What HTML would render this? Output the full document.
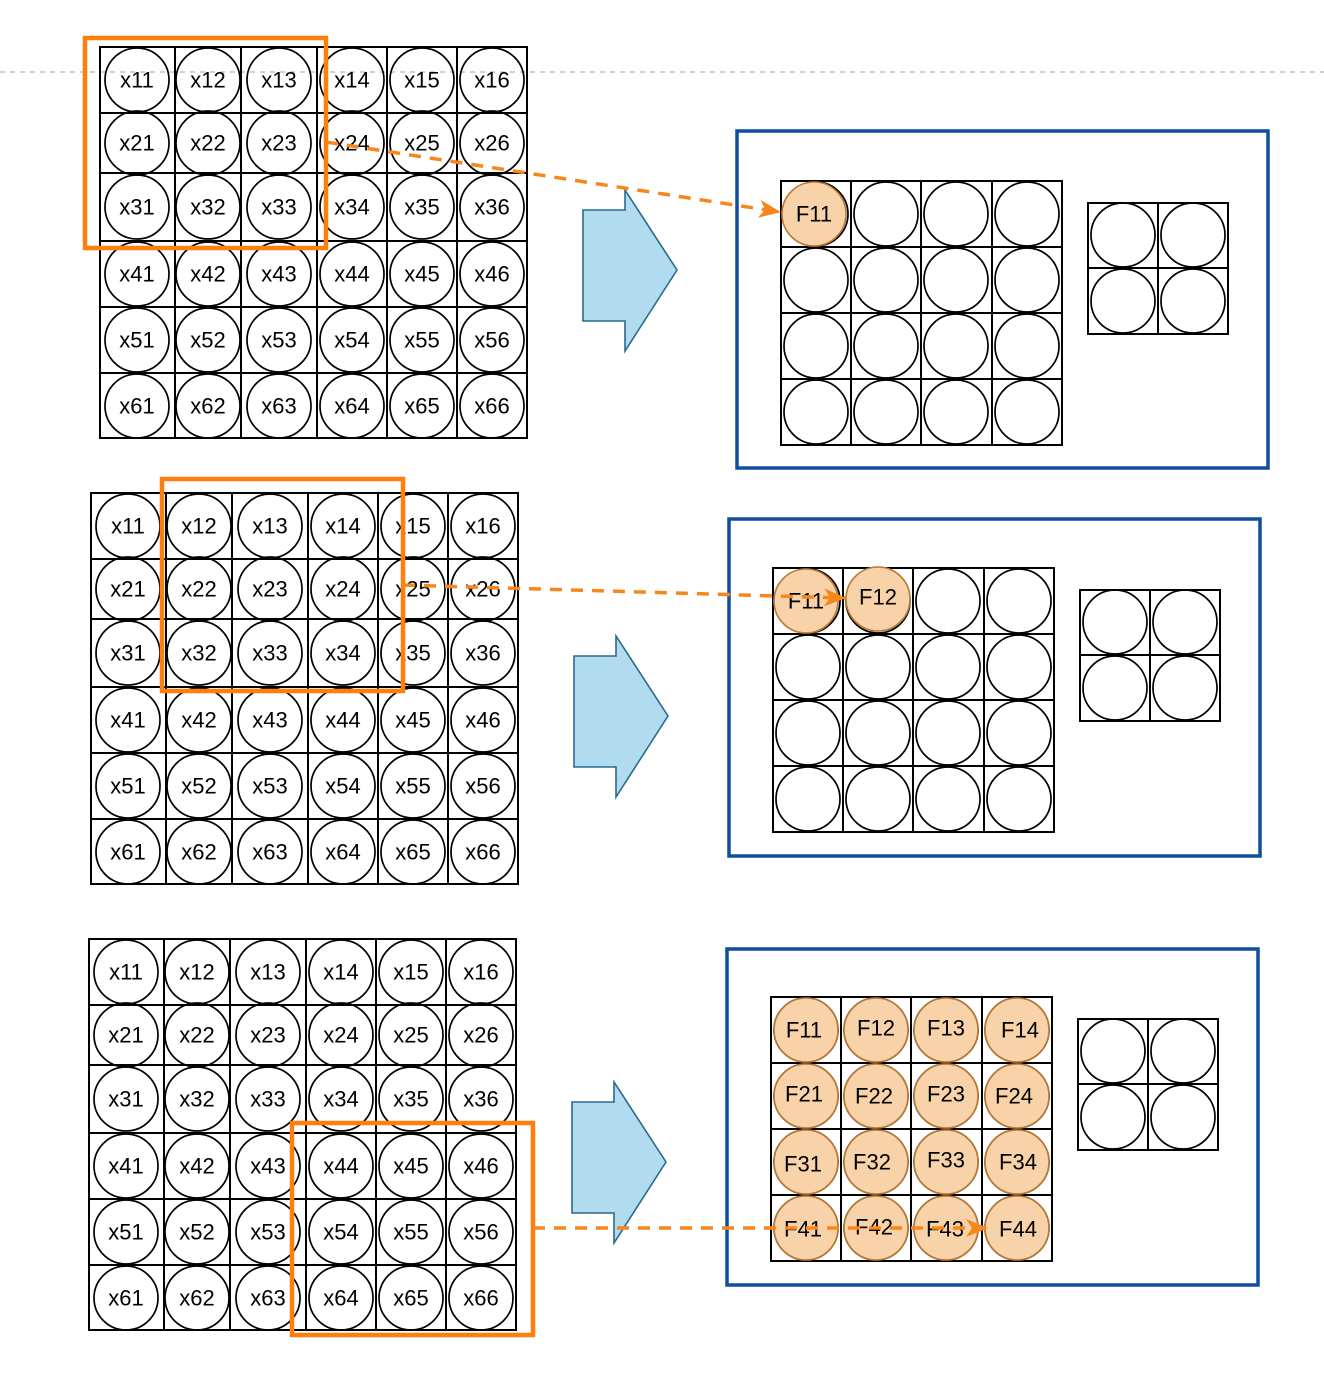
<!DOCTYPE html>
<html><head><meta charset="utf-8"><style>
html,body{margin:0;padding:0;background:#fff;}
svg{display:block;}
text{font-family:"Liberation Sans",Arial,sans-serif;font-size:22px;fill:#000;text-anchor:middle;dominant-baseline:central;}
.g{fill:none;stroke:#000;stroke-width:2;}
.c{fill:none;stroke:#000;stroke-width:1.7;}
.o{fill:#f8d2a8;stroke:#b97a36;stroke-width:1.6;}
.blue{fill:none;stroke:#0f4f9e;stroke-width:3.5;}
.or{fill:none;stroke:#ff7f0e;stroke-width:4.5;}
.arr{fill:#b1dcef;stroke:#2a6a8f;stroke-width:1.6;}
.dash{stroke:#f7861c;stroke-width:3.5;stroke-dasharray:12 9;fill:none;}
</style></head><body>
<svg width="1324" height="1382" viewBox="0 0 1324 1382" xmlns="http://www.w3.org/2000/svg">
<defs>
<marker id="ah" markerWidth="22" markerHeight="18" refX="21" refY="9" orient="auto" markerUnits="userSpaceOnUse" viewBox="0 0 22 18">
<path d="M0,0 L22,9 L0,18 L6,9 z" fill="#f7861c"/></marker>
<g id="xgrid">
<path class="g" d="M100,47H527V438H100Z M175,47V438 M241,47V438 M317,47V438 M387,47V438 M457,47V438 M100,113H527 M100,173H527 M100,241H527 M100,307H527 M100,373H527"/>
<g class="c">
<circle cx="137" cy="80" r="32"/><circle cx="208" cy="80" r="32"/><circle cx="279" cy="80" r="32"/><circle cx="352" cy="80" r="32"/><circle cx="422" cy="80" r="32"/><circle cx="492" cy="80" r="32"/>
<circle cx="137" cy="143" r="32"/><circle cx="208" cy="143" r="32"/><circle cx="279" cy="143" r="32"/><circle cx="352" cy="143" r="32"/><circle cx="422" cy="143" r="32"/><circle cx="492" cy="143" r="32"/>
<circle cx="137" cy="207" r="32"/><circle cx="208" cy="207" r="32"/><circle cx="279" cy="207" r="32"/><circle cx="352" cy="207" r="32"/><circle cx="422" cy="207" r="32"/><circle cx="492" cy="207" r="32"/>
<circle cx="137" cy="274" r="32"/><circle cx="208" cy="274" r="32"/><circle cx="279" cy="274" r="32"/><circle cx="352" cy="274" r="32"/><circle cx="422" cy="274" r="32"/><circle cx="492" cy="274" r="32"/>
<circle cx="137" cy="340" r="32"/><circle cx="208" cy="340" r="32"/><circle cx="279" cy="340" r="32"/><circle cx="352" cy="340" r="32"/><circle cx="422" cy="340" r="32"/><circle cx="492" cy="340" r="32"/>
<circle cx="137" cy="406" r="32"/><circle cx="208" cy="406" r="32"/><circle cx="279" cy="406" r="32"/><circle cx="352" cy="406" r="32"/><circle cx="422" cy="406" r="32"/><circle cx="492" cy="406" r="32"/>
</g>
</g>
<g id="fgrid">
<path class="g" d="M781,181H1062V445H781Z M851,181V445 M921,181V445 M992,181V445 M781,247H1062 M781,313H1062 M781,379H1062"/>
<g class="c">
<circle cx="886" cy="214" r="32"/><circle cx="956" cy="214" r="32"/><circle cx="1027" cy="214" r="32"/>
<circle cx="816" cy="280" r="32"/><circle cx="886" cy="280" r="32"/><circle cx="956" cy="280" r="32"/><circle cx="1027" cy="280" r="32"/>
<circle cx="816" cy="346" r="32"/><circle cx="886" cy="346" r="32"/><circle cx="956" cy="346" r="32"/><circle cx="1027" cy="346" r="32"/>
<circle cx="816" cy="412" r="32"/><circle cx="886" cy="412" r="32"/><circle cx="956" cy="412" r="32"/><circle cx="1027" cy="412" r="32"/>
<circle cx="816" cy="214" r="32"/>
</g>
<path class="g" d="M1088,203H1228V334H1088Z M1158,203V334 M1088,268H1228"/>
<g class="c"><circle cx="1123" cy="235" r="32"/><circle cx="1193" cy="235" r="32"/><circle cx="1123" cy="301" r="32"/><circle cx="1193" cy="301" r="32"/></g>
</g>
<g id="xlabels">
<text x="137" y="80">x11</text><text x="208" y="80">x12</text><text x="279" y="80">x13</text><text x="352" y="80">x14</text><text x="422" y="80">x15</text><text x="492" y="80">x16</text>
<text x="137" y="143">x21</text><text x="208" y="143">x22</text><text x="279" y="143">x23</text><text x="352" y="143">x24</text><text x="422" y="143">x25</text><text x="492" y="143">x26</text>
<text x="137" y="207">x31</text><text x="208" y="207">x32</text><text x="279" y="207">x33</text><text x="352" y="207">x34</text><text x="422" y="207">x35</text><text x="492" y="207">x36</text>
<text x="137" y="274">x41</text><text x="208" y="274">x42</text><text x="279" y="274">x43</text><text x="352" y="274">x44</text><text x="422" y="274">x45</text><text x="492" y="274">x46</text>
<text x="137" y="340">x51</text><text x="208" y="340">x52</text><text x="279" y="340">x53</text><text x="352" y="340">x54</text><text x="422" y="340">x55</text><text x="492" y="340">x56</text>
<text x="137" y="406">x61</text><text x="208" y="406">x62</text><text x="279" y="406">x63</text><text x="352" y="406">x64</text><text x="422" y="406">x65</text><text x="492" y="406">x66</text>
</g>
<path id="bigarrow" class="arr" d="M583,210H625V190L677,270L625,351V321H583Z"/>
</defs>

<line x1="0" y1="72" x2="1324" y2="72" stroke="#b5b5b5" stroke-width="1.2" stroke-dasharray="5 5"/>

<!-- Panel 1 -->
<use href="#xgrid"/>
<use href="#xlabels"/>
<rect x="85" y="38" width="241" height="210" class="or"/>
<use href="#bigarrow"/>
<rect x="737" y="131" width="531" height="337" class="blue"/>
<use href="#fgrid"/>
<circle cx="814" cy="214" r="32" class="o"/>
<text x="814" y="214">F11</text>
<line x1="326" y1="142" x2="780" y2="212" class="dash" marker-end="url(#ah)"/>

<!-- Panel 2 -->
<g transform="translate(-9,446)">
<use href="#xgrid"/>
<use href="#xlabels"/>
</g>
<rect x="162" y="479" width="241" height="212" class="or"/>
<g transform="translate(-9,446)"><use href="#bigarrow"/></g>
<rect x="729" y="519" width="531" height="337" class="blue"/>
<g transform="translate(-8,387)"><use href="#fgrid"/></g>
<circle cx="806" cy="601" r="32" class="o"/><circle cx="878" cy="599" r="32" class="o"/>
<text x="806" y="601">F11</text><text x="878" y="597">F12</text>
<line x1="403" y1="585" x2="845" y2="598" class="dash" marker-end="url(#ah)"/>

<!-- Panel 3 -->
<g transform="translate(-11,892)">
<use href="#xgrid"/>
<use href="#xlabels"/>
</g>
<g transform="translate(-11,892)"><use href="#bigarrow"/></g>
<rect x="727" y="949" width="531" height="336" class="blue"/>
<g transform="translate(-10,816)"><use href="#fgrid"/>
<g class="o">
<circle cx="816" cy="214" r="32"/><circle cx="886" cy="214" r="32"/><circle cx="956" cy="214" r="32"/><circle cx="1027" cy="214" r="32"/>
<circle cx="816" cy="280" r="32"/><circle cx="886" cy="280" r="32"/><circle cx="956" cy="280" r="32"/><circle cx="1027" cy="280" r="32"/>
<circle cx="816" cy="346" r="32"/><circle cx="886" cy="346" r="32"/><circle cx="956" cy="346" r="32"/><circle cx="1027" cy="346" r="32"/>
<circle cx="816" cy="412" r="32"/><circle cx="886" cy="412" r="32"/><circle cx="956" cy="412" r="32"/><circle cx="1027" cy="412" r="32"/>
</g>
<text x="814" y="214">F11</text><text x="886" y="212">F12</text><text x="956" y="212">F13</text><text x="1030" y="214">F14</text>
<text x="814" y="278">F21</text><text x="884" y="280">F22</text><text x="956" y="278">F23</text><text x="1024" y="280">F24</text>
<text x="813" y="348">F31</text><text x="882" y="346">F32</text><text x="956" y="344">F33</text><text x="1028" y="346">F34</text>
<text x="813" y="413">F41</text><text x="884" y="411">F42</text><text x="955" y="413">F43</text><text x="1028" y="413">F44</text>
</g>
<rect x="292" y="1123" width="241" height="212" class="or"/>
<line x1="533" y1="1228" x2="987" y2="1228" class="dash" marker-end="url(#ah)"/>
</svg>
</body></html>
